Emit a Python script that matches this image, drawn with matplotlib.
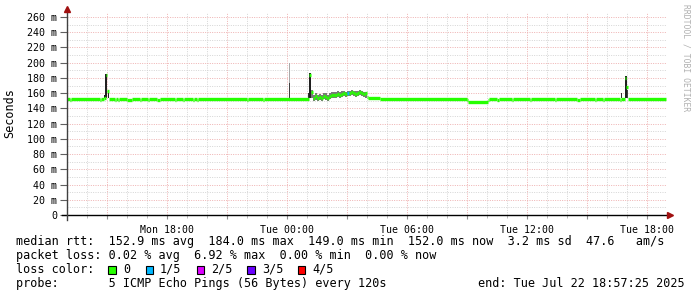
import numpy as np
import matplotlib.pyplot as plt
from matplotlib.ticker import FixedLocator, MultipleLocator, FuncFormatter

MONO = 'DejaVu Sans Mono'

# median rtt (ms), segment start times in hours since Mon 00:00
med_t = [13.0, 13.15, 13.2, 14.65, 14.7, 14.85, 14.95, 15.0, 15.1,
         15.4, 15.45, 15.55, 15.6, 16.0, 16.25, 16.65, 16.7, 17.05, 17.1,
         17.5, 17.65, 18.4, 18.45, 18.8, 18.85, 19.3, 19.35, 19.5, 19.55,
         22.0, 22.05, 22.8, 22.85, 25.1]
med_v = [152.5, 151.2, 152.5, 151.2, 152.5, 153.5, 184, 163, 152.5,
         151.2, 152.5, 151.2, 152.5, 151.2, 152.5, 151.2, 152.5, 151.2, 152.5,
         151.2, 152.5, 151.2, 152.5, 151.2, 152.5, 151.2, 152.5, 151.2, 152.5,
         151.2, 152.5, 151.2, 152.5, 184]

# noisy stretch after midnight
noisy_t = [25.2, 25.3, 25.4, 25.5, 25.6, 25.7, 25.8, 25.9, 26.0, 26.1,
           26.2, 26.3, 26.4, 26.5, 26.6, 26.7, 26.8, 26.9, 27.0, 27.1,
           27.2, 27.3, 27.4, 27.5, 27.6, 27.7, 27.8, 27.9]
noisy_med = [162, 154, 156, 153, 155, 154, 156, 155, 153, 156,
             157, 158, 157, 159, 158, 159, 160, 159, 160, 160,
             161, 160, 159, 160, 161, 160, 159, 160]
noisy_lo = [153, 150, 151, 150, 151, 150, 152, 151, 150, 152,
            153, 154, 153, 155, 154, 155, 156, 155, 156, 156,
            157, 156, 155, 156, 157, 156, 155, 153]
noisy_hi = [164, 158, 160, 158, 159, 158, 160, 160, 158, 160,
            161, 162, 161, 163, 162, 163, 163, 162, 163, 163,
            164, 163, 163, 163, 164, 163, 162, 161]

med2_t = [28.0, 28.05, 28.65, 33.0, 33.05, 34.05, 34.1, 34.5, 34.6,
          35.25, 35.3, 36.15, 36.2, 37.4, 37.45, 38.5, 38.65, 39.4, 39.45,
          39.8, 39.85, 40.65, 40.7, 40.9, 40.95, 41.05, 42.95]
med2_v = [155, 153.5, 152.5, 151, 149, 151, 152.5, 151.2, 152.5,
          151.2, 152.5, 151.2, 152.5, 151.2, 152.5, 151.2, 152.5, 151.2, 152.5,
          151.2, 152.5, 151.2, 152.5, 180, 168, 152.5]

# loss events (start time, pings lost of 5)
loss_t = [27.0]
loss_n = [1]

# smoke spikes: start, width (h), low, high, shade
spike_t = [14.85, 14.88, 14.95, 15.05, 24.1, 24.1, 25.03, 25.08, 25.15,
           28.25, 40.7, 40.88, 40.95, 41.0]
spike_w = [0.05, 0.07, 0.05, 0.06, 0.04, 0.04, 0.05, 0.07, 0.05,
           0.4, 0.06, 0.07, 0.05, 0.07]
spike_lo = [153, 153, 153, 153, 153, 173, 153, 153, 153,
            151, 153, 153, 153, 153]
spike_hi = [157, 185, 185, 164, 173, 200, 160, 186, 186,
            155, 160, 182, 182, 164]
spike_c = ['#202020', '#202020', '#202020', '#202020', '#404040', '#a8a8a8',
           '#303030', '#202020', '#202020', '#909090', '#303030', '#202020',
           '#202020', '#404040']

loss_colors = ['#26ff00', '#00b8ff', '#dd00ff', '#6a00ff', '#ff0000']
loss_labels = ['0', '1/5', '2/5', '3/5', '4/5']

fig = plt.figure(figsize=(6.97, 2.97), dpi=100)
W, H = 697, 297
ax_l, ax_r, ax_b, ax_t = 67, 667, 215, 12.4
ax = fig.add_axes([ax_l / W, 1 - ax_b / H, (ax_r - ax_l) / W, (ax_b - ax_t) / H])
ax.set_xlim(13, 43)
ax.set_ylim(0, 266)
for s in ax.spines.values():
    s.set_visible(False)

# grid
ax.xaxis.set_major_locator(FixedLocator(np.arange(15, 43, 3)))
ax.xaxis.set_minor_locator(MultipleLocator(1))
ax.yaxis.set_major_locator(FixedLocator(np.arange(0, 261, 20)))
ax.yaxis.set_minor_locator(FixedLocator(np.arange(10, 261, 20)))
ax.grid(which='minor', color='#d4d4d4', linestyle=(0, (1, 1.4)), linewidth=0.7)
ax.grid(which='major', color='#eeb0b0', linestyle=(0, (1, 1.4)), linewidth=0.7)
ax.set_axisbelow(True)

day = {0: 'Mon', 1: 'Tue'}
ax.xaxis.set_major_formatter(FuncFormatter(
    lambda v, p: f"{day[int(v // 24)]} {int(v % 24):02d}:00" if v % 6 == 0 else ''))
ax.yaxis.set_major_formatter(FuncFormatter(lambda v, p: '0' if v == 0 else f"{int(v)} m"))
ax.tick_params(axis='x', which='major', length=3, color='#909090', labelsize=7.1, pad=4)
ax.tick_params(axis='x', which='minor', length=2, color='#b0b0b0')
ax.tick_params(axis='y', which='major', length=5, color='#606060', labelsize=7.2, pad=2)
ax.tick_params(axis='y', which='minor', length=0)
for lab in ax.get_xticklabels() + ax.get_yticklabels():
    lab.set_family(MONO)

# smoke
ax.fill_between(noisy_t + [28.0], noisy_lo + [noisy_lo[-1]], noisy_hi + [noisy_hi[-1]],
                step='post', color='#7a7a7a', linewidth=0, zorder=2)
ax.bar(spike_t, np.array(spike_hi) - np.array(spike_lo), bottom=spike_lo,
       width=spike_w, align='edge', color=spike_c, linewidth=0, zorder=3)

# median line, drawn as short horizontal bars
all_t = med_t + noisy_t + med2_t
all_v = med_v + noisy_med + med2_v
seg_c = []
for t in all_t[:-1]:
    c = loss_colors[0]
    for lt, ln in zip(loss_t, loss_n):
        if abs(t - lt) < 1e-6:
            c = loss_colors[ln]
    seg_c.append(c)
ax.hlines(all_v, all_t[:-1], all_t[1:], colors=seg_c, linewidth=2.4,
          capstyle='butt', zorder=4)

# axis lines with arrows
ax.plot([(62 - ax_l) / 600, (670 - ax_l) / 600], [0, 0], color='black', lw=1,
        transform=ax.transAxes, clip_on=False, zorder=5)
ax.plot([0, 0], [-5 / 202.6, (215 - 9) / 202.6], color='#404040', lw=1,
        transform=ax.transAxes, clip_on=False, zorder=5)
ax.plot([(670 - ax_l) / 600], [0], marker='>', ms=4.5, color='#a01010',
        transform=ax.transAxes, clip_on=False, zorder=6)
ax.plot([0], [(215 - 9) / 202.6], marker='^', ms=4.5, color='#a01010',
        transform=ax.transAxes, clip_on=False, zorder=6)

# labels
fig.text(10 / W, 1 - 113 / H, 'Seconds', rotation=90, family=MONO, size=8.5,
         ha='center', va='center')
fig.text(686 / W, 1 - 4 / H, 'RRDTOOL / TOBI OETIKER', rotation=270, family=MONO,
         size=5.8, color='#b0b0b0', ha='center', va='top')

fs = 8.5
def row(y, s, x=16):
    fig.text(x / W, 1 - y / H, s, family=MONO, size=fs, ha='left', va='center')

row(241.5, 'median rtt:  152.9 ms avg  184.0 ms max  149.0 ms min  152.0 ms now  3.2 ms sd  47.6   am/s')
row(255.5, 'packet loss: 0.02 % avg  6.92 % max  0.00 % min  0.00 % now')
row(269.5, 'loss color:')
row(283.5, 'probe:       5 ICMP Echo Pings (56 Bytes) every 120s')
row(283.5, 'end: Tue Jul 22 18:57:25 2025', x=478)

box_x = [108.3, 145.7, 196.7, 247.3, 297.7]
lab_x = [123, 160, 211, 261.7, 312.3]
for bx, lx, c, lab in zip(box_x, lab_x, loss_colors, loss_labels):
    fig.patches.append(plt.Rectangle((bx / W, 1 - 273.5 / H), 7.5 / W, 8 / H,
                                     transform=fig.transFigure, facecolor=c,
                                     edgecolor='black', linewidth=0.8))
    row(269.5, lab, x=lx)

fig.savefig('out.png', dpi=100, facecolor='white')
